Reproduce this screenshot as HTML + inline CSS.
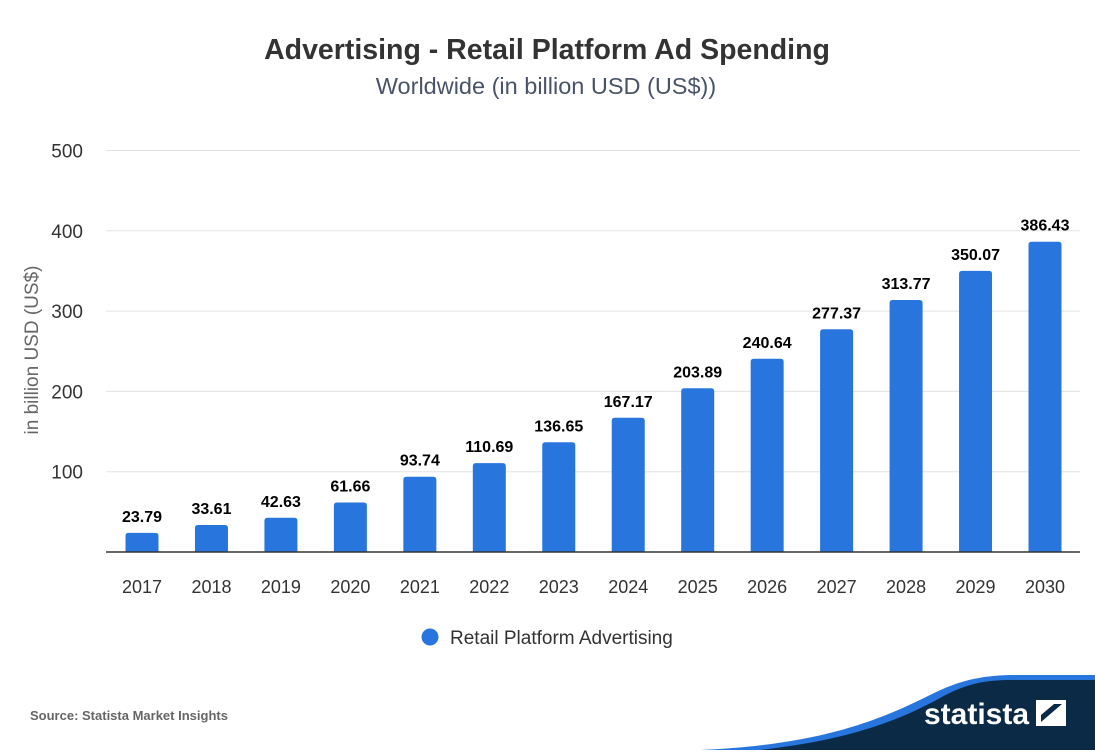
<!DOCTYPE html>
<html><head><meta charset="utf-8"><style>
body{margin:0;background:#fff;font-family:"Liberation Sans",Arial,sans-serif}
</style></head><body>
<svg width="1095" height="750" xmlns="http://www.w3.org/2000/svg">
<text x="547" y="59" text-anchor="middle" font-size="28.5" font-weight="bold" fill="#333">Advertising - Retail Platform Ad Spending</text>
<text x="546" y="94" text-anchor="middle" font-size="23.5" fill="#4a5468">Worldwide (in billion USD (US$))</text>
<text transform="translate(38,350) rotate(-90)" text-anchor="middle" font-size="19" fill="#666">in billion USD (US$)</text>
<g id="grid"></g><g id="bars"></g>
<line x1="106" x2="1080" y1="552" y2="552" stroke="#333" stroke-width="1.5"/>
<circle cx="430" cy="637" r="8.5" fill="#2876dd"/>
<text x="450" y="644" font-size="19" fill="#333">Retail Platform Advertising</text>
<text x="30" y="720" font-size="13" font-weight="bold" fill="#666">Source: Statista Market Insights</text>
<path d="M700,750 C820,745 880,720 930,695 C960,680 980,676 1010,675 L1095,675 L1095,750 Z" fill="#2876dd"/>
<path d="M760,750 C850,740 900,720 940,698 C965,684 985,680 1010,680 L1095,680 L1095,750 Z" fill="#0b2a45"/>
<text x="924" y="724" font-size="30" font-weight="bold" fill="#fff">statista</text>
<path d="M1036,700 h30 v26 h-30 Z M1041,722 l21,-18 h-8 l-13,11 Z" fill="#fff" fill-rule="evenodd"/>
</svg>
<script>
const years=["2017","2018","2019","2020","2021","2022","2023","2024","2025","2026","2027","2028","2029","2030"];
const values=[23.79,33.61,42.63,61.66,93.74,110.69,136.65,167.17,203.89,240.64,277.37,313.77,350.07,386.43];
const yTicks=[100,200,300,400,500];
const NS="http://www.w3.org/2000/svg";
const y0=552,y500=150.5;
function yS(v){return y0-(y0-y500)*v/500;}
function xS(i){return 142+i*(1045-142)/(years.length-1);}
function mk(tag,at,txt){const e=document.createElementNS(NS,tag);for(const k in at)e.setAttribute(k,at[k]);if(txt!=null)e.textContent=txt;return e;}
const g=document.getElementById('grid'),b=document.getElementById('bars');
yTicks.forEach(t=>{
 const l=mk('line',{x1:106,x2:1080,y1:yS(t),y2:yS(t),stroke:'#e3e3e3','stroke-width':1});
 
 
 g.appendChild(l);
 const tx=mk('text',{x:83,y:yS(t)+7,'text-anchor':'end','font-size':19,fill:'#333'},t);
 
 
 g.appendChild(tx);
});
values.forEach((v,i)=>{
 const x=xS(i),w=33,top=yS(v);
 const p=mk('path',{d:`M${x-w/2},${y0} V${top+3} Q${x-w/2},${top} ${x-w/2+3},${top} H${x+w/2-3} Q${x+w/2},${top} ${x+w/2},${top+3} V${y0} Z`,fill:'#2876dd'});
 
 
 b.appendChild(p);
 const lb=mk('text',{x:x,y:top-11,'text-anchor':'middle','font-size':16,'font-weight':'bold',fill:'#000'},v.toFixed(2));
 
 
 b.appendChild(lb);
 const xl=mk('text',{x:x,y:593,'text-anchor':'middle','font-size':18,fill:'#333'},years[i]);
 
 
 b.appendChild(xl);
});
</script>
</body></html>
